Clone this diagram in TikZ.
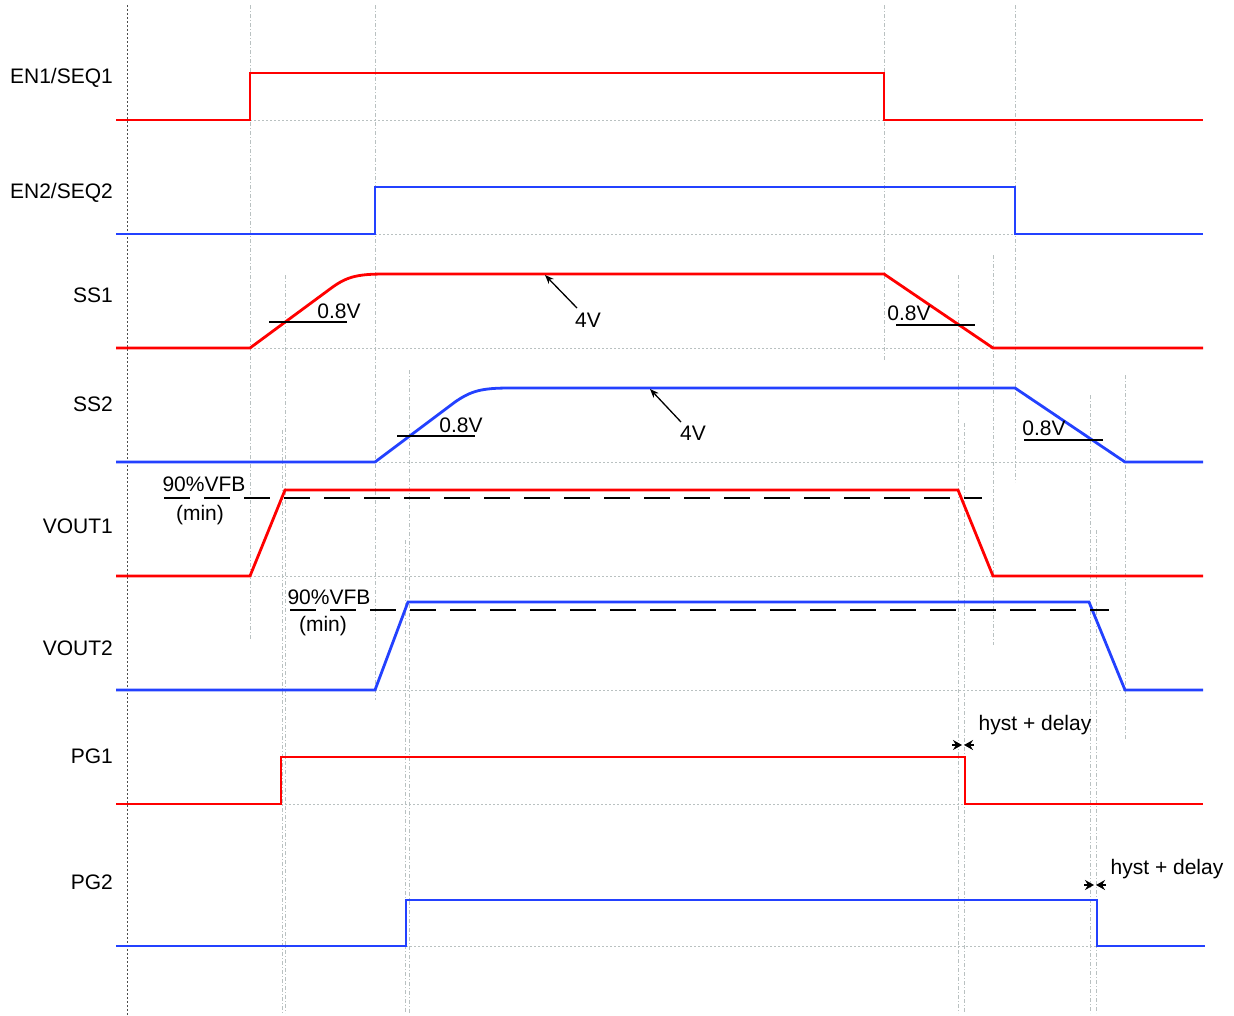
\documentclass[tikz,border=0pt]{standalone}
\usepackage{fontspec}
\setmainfont{Liberation Sans}
\usetikzlibrary{arrows.meta}
\definecolor{sigred}{RGB}{255,0,0}
\definecolor{sigblue}{RGB}{35,65,255}
\definecolor{gridgray}{RGB}{185,193,193}
\begin{document}
\begin{tikzpicture}[x=1pt,y=-1pt,
  sig/.style={line width=2.8pt, line join=miter},
  guide/.style={gridgray, line width=0.8pt, dash pattern=on 4pt off 2pt on 1pt off 2pt},
  base/.style={gridgray, line width=0.8pt, dash pattern=on 2pt off 2pt},
  lbl/.style={font=\fontsize{21}{25}\selectfont, inner sep=0pt},
  anno/.style={black, line width=1.3pt},
  vfb/.style={black, line width=1.3pt, dash pattern=on 26pt off 14pt},
  hyst/.style={black, line width=1.6pt, -{Stealth[inset=3pt, length=9pt, width=10pt]}}]
\useasboundingbox (0,0) rectangle (1234,1015);

% vertical guides
\draw[black!70, line width=0.8pt, dash pattern=on 2pt off 2pt] (127,5) -- (127,1015);
\draw[guide] (250,5) -- (250,640);
\draw[guide] (375,5) -- (375,700);
\draw[guide] (884,5) -- (884,360);
\draw[guide] (1015,5) -- (1015,482);
\draw[guide] (285,275) -- (285,1013);
\draw[guide] (282,430) -- (282,1013);
\draw[guide] (409,370) -- (409,1013);
\draw[guide] (405,540) -- (405,1013);
\draw[guide] (958,275) -- (958,1013);
\draw[guide] (964,423) -- (964,1013);
\draw[guide] (993,255) -- (993,645);
\draw[guide] (1090,395) -- (1090,1013);
\draw[guide] (1096,530) -- (1096,1013);
\draw[guide] (1125,375) -- (1125,740);

% horizontal baselines
\draw[base] (250,120) -- (884,120);
\draw[base] (375,234) -- (1015,234);
\draw[base] (250,348) -- (993,348);
\draw[base] (375,462) -- (1125,462);
\draw[base] (250,576) -- (993,576);
\draw[base] (375,690) -- (1125,690);
\draw[base] (281,804) -- (965,804);
\draw[base] (406,946) -- (1097,946);

% labels
\node[lbl, anchor=east] (l1) at (113,78) {EN1/SEQ1};
\node[lbl, anchor=east] (l2) at (113,193) {EN2/SEQ2};
\node[lbl, anchor=east] (l3) at (113,295) {SS1};
\node[lbl, anchor=east] (l4) at (113,404) {SS2};
\node[lbl, anchor=east] (l5) at (113,526) {VOUT1};
\node[lbl, anchor=east] (l6) at (113,648) {VOUT2};
\node[lbl, anchor=east] (l7) at (113,756) {PG1};
\node[lbl, anchor=east] (l8) at (113,882) {PG2};

% signals
\draw[sig, sigred] (116,120) -- (250,120) -- (250,73) -- (884,73) -- (884,120) -- (1203,120);
\draw[sig, sigblue] (116,234) -- (375,234) -- (375,187) -- (1015,187) -- (1015,234) -- (1203,234);
\draw[sig, sigred] (116,348) -- (250,348) -- (330,289) .. controls (346,277) and (356,274) .. (385,274) -- (884,274) -- (993,348) -- (1203,348);
\draw[sig, sigblue] (116,462) -- (375,462) -- (455,402) .. controls (471,391) and (481,388) .. (510,388) -- (1015,388) -- (1125,462) -- (1203,462);
\draw[sig, sigred] (116,576) -- (250,576) -- (285,490) -- (958,490) -- (993,576) -- (1203,576);
\draw[sig, sigblue] (116,690) -- (375,690) -- (408,602) -- (1089,602) -- (1125,690) -- (1203,690);
\draw[sig, sigred] (116,804) -- (281,804) -- (281,757) -- (965,757) -- (965,804) -- (1203,804);
\draw[sig, sigblue] (116,946) -- (406,946) -- (406,900) -- (1097,900) -- (1097,946) -- (1205,946);

% SS annotations
\node[lbl] (a1) at (339,311) {0.8V};
\draw[anno] (269,322) -- (347,322);
\node[lbl] (a2) at (588,320) {4V};
\coordinate (p2) at (545,275);
\draw[anno, -{Stealth[length=9pt,width=7pt]}] (577,308) -- (p2);
\node[lbl] (a3) at (909,313) {0.8V};
\draw[anno] (896,325) -- (975,325);
\node[lbl] (a4) at (461,425) {0.8V};
\draw[anno] (397,436) -- (475,436);
\node[lbl] (a5) at (693,433) {4V};
\coordinate (p5) at (650,389);
\draw[anno, -{Stealth[length=9pt,width=7pt]}] (681,422) -- (p5);
\node[lbl] (a6) at (1044,428) {0.8V};
\draw[anno] (1024,440) -- (1103,440);

% VFB
\node[lbl] (v1) at (204,484) {90\%VFB};
\node[lbl] (v1m) at (200,515) {(min)};
\draw[vfb] (164,498) -- (982,498);
\node[lbl] (v2) at (329,597) {90\%VFB};
\node[lbl] (v2m) at (323,626) {(min)};
\draw[vfb] (290,610) -- (1109,610);

% hyst + delay
\node[lbl] (h1) at (1035,725) {hyst + delay};
\coordinate (hL1) at (952,745);
\coordinate (hR1) at (974,745);
\coordinate (hc1a) at (962,745);
\coordinate (hc1b) at (964,745);
\draw[hyst] (hL1) -- (hc1a);
\draw[hyst] (hR1) -- (hc1b);
\node[lbl] (h2) at (1167,869) {hyst + delay};
\coordinate (hL2) at (1084,885);
\coordinate (hR2) at (1106,885);
\coordinate (hc2a) at (1094,885);
\coordinate (hc2b) at (1096,885);
\draw[hyst] (hL2) -- (hc2a);
\draw[hyst] (hR2) -- (hc2b);
\end{tikzpicture}
\end{document}
